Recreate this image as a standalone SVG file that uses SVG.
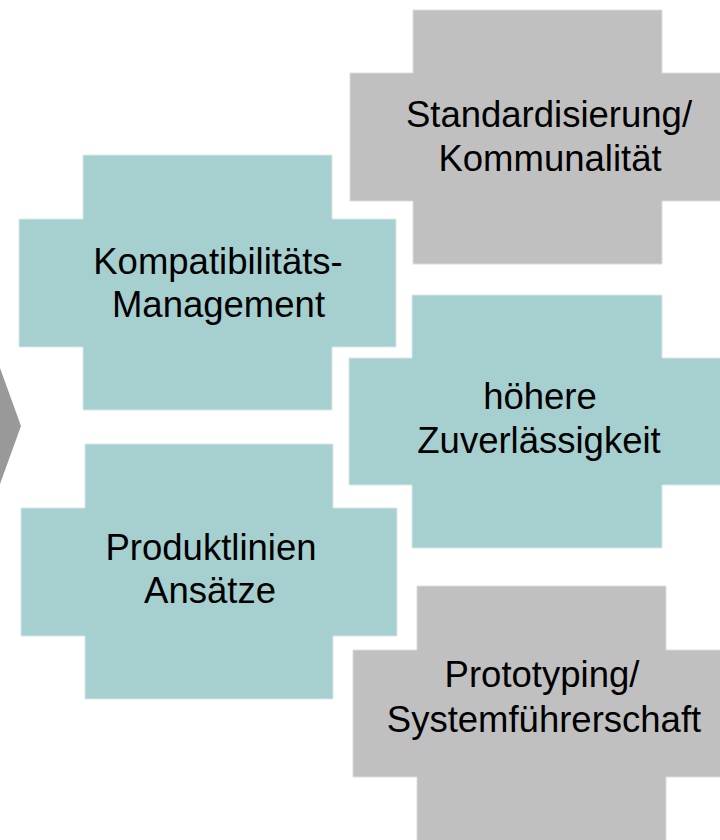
<svg xmlns="http://www.w3.org/2000/svg" width="720" height="840" viewBox="0 0 720 840">
  <style>
    .teal { fill: #a6cfcf; stroke: #d8e8e8; stroke-width: 1; }
    .gray { fill: #c0c0c0; stroke: #dcdcdc; stroke-width: 1; }
    .lbl { font-family: "Liberation Sans", Arial, sans-serif; font-size: 36.5px; fill: #000; text-anchor: middle; }
    .chev { fill: #999999; }
  </style>
  <rect width="720" height="840" fill="#ffffff"/>
  <g id="connectors">
    <polygon class="chev" points="0,368 21,426 0,484"/>
  </g>
  <g id="node-standardisierung">
    <path class="gray" d="M413 10 H662 V73 H725 V201 H662 V264 H413 V201 H350 V73 H413 Z"/>
    <text class="lbl" x="549" y="127">Standardisierung/</text>
    <text class="lbl" x="550" y="170.5">Kommunalität</text>
  </g>
  <g id="node-kompatibilitaet">
    <path class="teal" d="M83 155 H332 V219 H396 V347 H332 V410 H83 V347 H19 V219 H83 Z"/>
    <text class="lbl" x="218" y="273.5">Kompatibilitäts-</text>
    <text class="lbl" x="218.5" y="316.5">Management</text>
  </g>
  <g id="node-produktlinien">
    <path class="teal" d="M85 444 H333 V508 H397 V636 H333 V699 H85 V636 H21 V508 H85 Z"/>
    <text class="lbl" x="211" y="559.5">Produktlinien</text>
    <text class="lbl" x="210" y="603">Ansätze</text>
  </g>
  <g id="node-zuverlaessigkeit">
    <path class="teal" d="M412 295 H662 V358 H725 V485 H662 V548 H412 V485 H349 V358 H412 Z"/>
    <text class="lbl" x="540" y="408.5">höhere</text>
    <text class="lbl" x="539" y="452.5">Zuverlässigkeit</text>
  </g>
  <g id="node-prototyping">
    <path class="gray" d="M417 586 H666 V650 H730 V777 H666 V845 H417 V777 H353 V650 H417 Z"/>
    <text class="lbl" x="542" y="687">Prototyping/</text>
    <text class="lbl" x="544" y="731.5">Systemführerschaft</text>
  </g>
</svg>
